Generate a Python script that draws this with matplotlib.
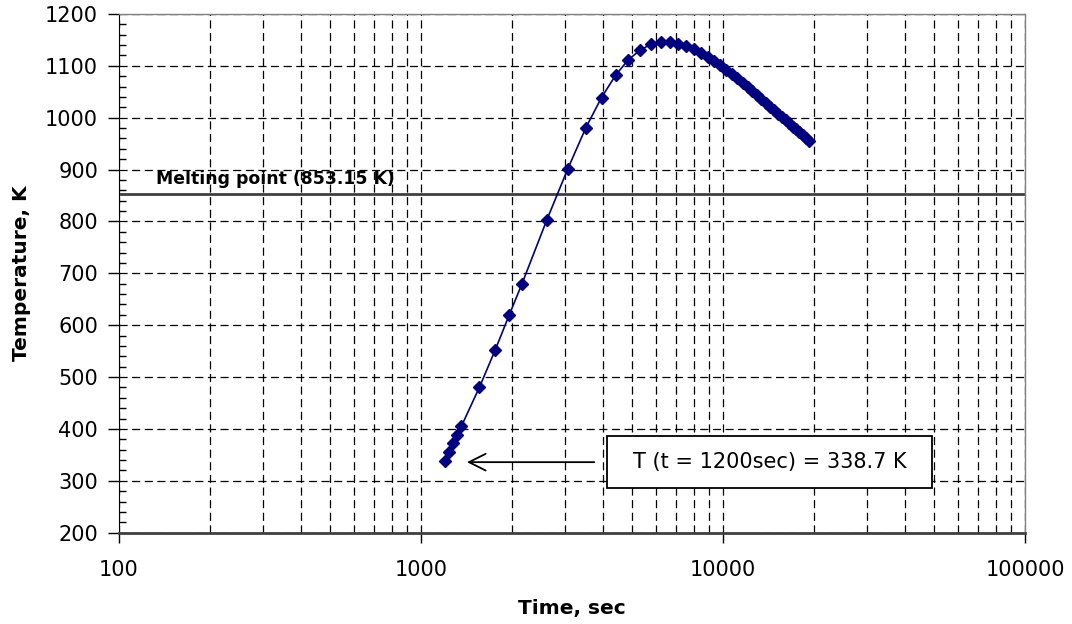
import numpy as np
import matplotlib
matplotlib.use("Agg")
import matplotlib.pyplot as plt
from matplotlib.patches import Rectangle
from matplotlib.ticker import LogLocator, MultipleLocator, FixedLocator, NullFormatter

plt.rcParams['font.family'] = ['DejaVu Sans']

# time (s) and temperature (K)
time_s = [1200, 1240, 1280, 1320, 1360, 1560, 1760, 1960, 2160, 2610,
          3060, 3510, 3960, 4410, 4860, 5310, 5760, 6210, 6660, 7110,
          7560, 8010, 8460, 8910, 9360, 9810, 10260, 10710, 11160, 11610,
          12060, 12510, 12960, 13410, 13860, 14310, 14760, 15210, 15660, 16110,
          16560, 17010, 17460, 17910, 18360, 18810, 19260]
temp_k = [338.7, 355, 372, 389, 405, 480, 552, 620, 680, 803,
          901, 980, 1039, 1082, 1112, 1130, 1141.5, 1146, 1146.5, 1143,
          1138, 1132, 1125, 1117, 1109, 1102, 1093, 1085, 1076, 1067,
          1059, 1051, 1043, 1036, 1028, 1021, 1014.5, 1008, 1001.5, 995,
          989, 983, 977.5, 972, 966.5, 961, 956]

melting_point = 853.15
x_ticks = [100, 1000, 10000, 100000]
y_ticks = list(range(200, 1201, 100))

fig = plt.figure(figsize=(10.72, 6.24), dpi=100)
ax = fig.add_axes([119/1072, 1 - 532.7/624, (1025-119)/1072, (532.7-14)/624])

ax.set_xscale('log')
ax.set_xlim(100, 100000)
ax.set_ylim(200, 1200)

dash = (0, (6.5, 3.6))
ax.xaxis.set_major_locator(FixedLocator(x_ticks))
ax.xaxis.set_minor_locator(LogLocator(base=10, subs=np.arange(2, 10)))
ax.xaxis.set_minor_formatter(NullFormatter())
ax.set_xticklabels([str(v) for v in x_ticks])
ax.yaxis.set_major_locator(FixedLocator(y_ticks))
ax.yaxis.set_minor_locator(MultipleLocator(20))

ax.grid(True, which='major', axis='both', color='black', linestyle=dash, linewidth=0.9)
ax.grid(True, which='minor', axis='x', color='black', linestyle=dash, linewidth=0.9)
ax.set_axisbelow(True)

ax.tick_params(axis='x', which='major', direction='out', length=7, width=1,
               labelsize=15, pad=13)
ax.tick_params(axis='x', which='minor', length=0)
ax.tick_params(axis='y', which='major', direction='out', length=8, width=1,
               labelsize=15, pad=7)
ax.tick_params(axis='y', which='minor', direction='in', length=5, width=1)

for side in ['top', 'right']:
    ax.spines[side].set_color('#808080')
    ax.spines[side].set_linewidth(1)
ax.spines['left'].set_color('black')
ax.spines['bottom'].set_color('#404040')
ax.spines['bottom'].set_linewidth(2)

ax.axhline(melting_point, color='#404040', linewidth=2, zorder=2)
ax.text(133, 864, 'Melting point (853.15 K)', fontsize=12.4, fontweight='bold',
        ha='left', va='bottom')

ax.plot(time_s, temp_k, color='#000080', linewidth=1.2, marker='D',
        markersize=6, markeredgecolor='#000080', zorder=3)

# annotation: arrow plus boxed label
ax.annotate('', xy=(1390, 336), xytext=(3826, 336),
            arrowprops=dict(arrowstyle='->', color='black', lw=1.3,
                            mutation_scale=30))
ax.add_patch(Rectangle((0.5383, 0.0856), 0.3594, 0.1014, transform=ax.transAxes,
                       facecolor='white', edgecolor='black', linewidth=1.3,
                       zorder=4))
ax.text(0.718, 0.1363, 'T (t = 1200sec) = 338.7 K', fontsize=15,
        ha='center', va='center', transform=ax.transAxes, zorder=5)

ax.set_xlabel('Time, sec', fontsize=14.5, fontweight='bold', labelpad=13)
ax.set_ylabel('Temperature, K', fontsize=14.5, fontweight='bold', labelpad=10)

fig.savefig('out.png', dpi=100)
